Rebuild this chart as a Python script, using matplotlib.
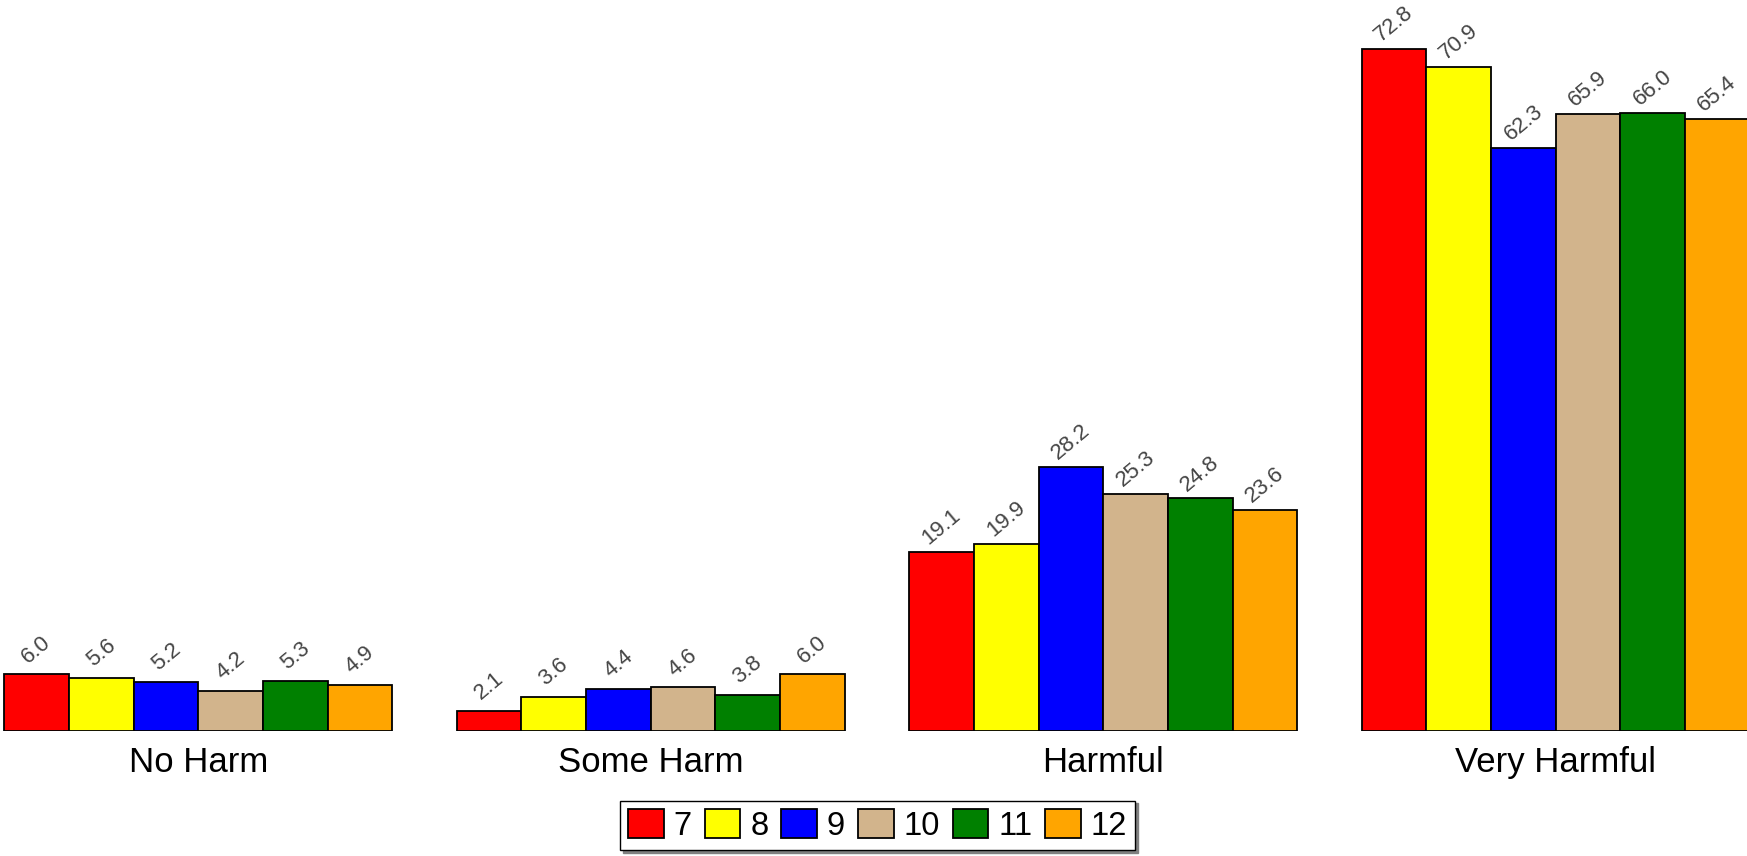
import matplotlib
matplotlib.use("Agg")
import matplotlib.pyplot as plt
import numpy as np

plt.rcParams['font.family'] = ['Liberation Sans', 'DejaVu Sans']

# data
categories = ['No Harm', 'Some Harm', 'Harmful', 'Very Harmful']
grades = ['7', '8', '9', '10', '11', '12']
grade_7 = [6.0, 2.1, 19.1, 72.8]
grade_8 = [5.6, 3.6, 19.9, 70.9]
grade_9 = [5.2, 4.4, 28.2, 62.3]
grade_10 = [4.2, 4.6, 25.3, 65.9]
grade_11 = [5.3, 3.8, 24.8, 66.0]
grade_12 = [4.9, 6.0, 23.6, 65.4]

series = [grade_7, grade_8, grade_9, grade_10, grade_11, grade_12]
colors = ['#FF0000', '#FFFF00', '#0000FF', '#D2B48C', '#008000', '#FFA500']

fig = plt.figure(figsize=(17.47, 8.56), dpi=100)
ax = fig.add_axes([0, 0.1466, 1, 0.8534])

width = 1 / 7
x = np.arange(len(categories))
for i, (vals, col, lab) in enumerate(zip(series, colors, grades)):
    pos = x + (i - 2.5) * width
    ax.bar(pos, vals, width, color=col, edgecolor='black',
           linewidth=1.3, label=lab)
    for xp, v in zip(pos, vals):
        # value labels, tilted, sitting just above each bar
        ax.annotate("%.1f" % v, (xp, v), xytext=(0, 18), textcoords='offset points',
                    ha='center', va='center', rotation=40, fontsize=16,
                    color='#444444')

ax.set_xlim(-0.4381, 3.4227)
ax.set_ylim(0, 78.07)
ax.set_xticks(x)
ax.set_xticklabels(categories, fontsize=25)
ax.tick_params(axis='x', length=0, pad=11)
ax.set_yticks([])
for s in ax.spines.values():
    s.set_visible(False)

leg = fig.legend(loc='upper center', bbox_to_anchor=(0.5024, 0.0646), ncol=6,
                 fontsize=23.5, handlelength=1.09, handleheight=1.01,
                 handletextpad=0.3, columnspacing=0.4, borderpad=0.25,
                 borderaxespad=0, fancybox=False, shadow={'color': 'gray', 'alpha': 1},
                 framealpha=1, edgecolor='black')
leg.get_frame().set_linewidth(1.0)

fig.savefig("out.png", dpi=100)
